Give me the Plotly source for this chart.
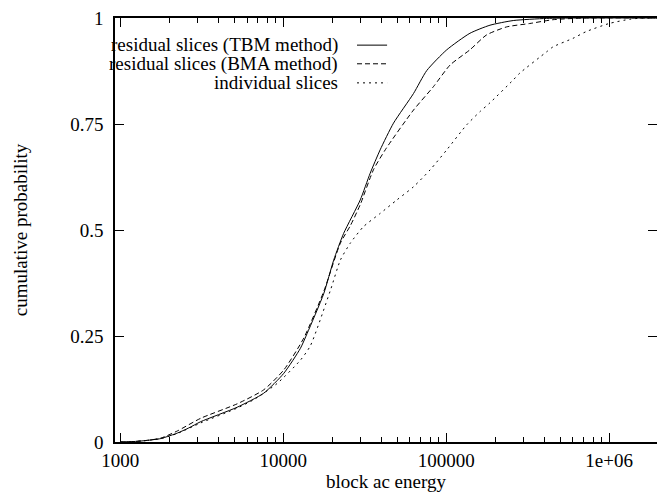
import numpy as np
import plotly.graph_objects as go

# ---- data ----
tbm_energy = [1000, 1200, 1400, 1770, 1950, 2240, 2630, 3120, 5220, 7590, 10090, 12760,
              14030, 17740, 20420, 23500, 29720, 34200, 39360, 47530, 63100, 76030,
              100900, 140000, 185800, 258200, 413000, 631000, 2000000]
tbm_prob = [0.0, 0.001, 0.003, 0.008, 0.013, 0.021, 0.033, 0.048, 0.082, 0.115, 0.162, 0.221,
            0.256, 0.35, 0.429, 0.492, 0.571, 0.634, 0.689, 0.752, 0.822, 0.876,
            0.925, 0.964, 0.983, 0.994, 0.999, 1.0, 1.0]

bma_energy = [1000, 1200, 1400, 1770, 2240, 3120, 5220, 7590, 10090, 13370, 17740, 22440,
              25820, 29720, 35810, 42950, 63100, 83560, 105700, 140000, 177000, 235000,
              326000, 453000, 708000, 2000000]
bma_prob = [0.0, 0.001, 0.003, 0.009, 0.026, 0.056, 0.09, 0.123, 0.17, 0.245, 0.355, 0.469,
            0.51, 0.56, 0.642, 0.693, 0.783, 0.838, 0.889, 0.925, 0.96, 0.979,
            0.987, 0.996, 1.0, 1.0]

ind_energy = [1000, 1200, 1400, 1770, 2240, 3120, 5220, 6610, 9180, 12760, 14690, 19500,
              22440, 25820, 31120, 39360, 49890, 63100, 79800, 100900, 133700, 162200,
              185800, 258200, 283100, 413000, 453000, 600000, 724000, 1000000, 1334000,
              1611000, 2000000]
ind_prob = [0.0, 0.001, 0.003, 0.008, 0.02, 0.045, 0.08, 0.1, 0.138, 0.193, 0.227, 0.358,
            0.429, 0.469, 0.508, 0.539, 0.571, 0.602, 0.642, 0.689, 0.748, 0.78,
            0.80, 0.854, 0.87, 0.92, 0.932, 0.952, 0.968, 0.987, 0.997,
            1.0, 1.0]

series_names = ["residual slices (TBM method)", "residual slices (BMA method)", "individual slices"]
series_dash = ["solid", "5px,3px", "2px,4px"]

x_tickvals = [1000, 10000, 100000, 1000000]
x_ticktext = ["1000", "10000", "100000", "1e+06"]
y_tickvals = [0, 0.25, 0.5, 0.75, 1]
y_ticktext = ["0", "0.25", "0.5", "0.75", "1"]

FONT = "Liberation Serif"
FS = 19

fig = go.Figure()
for xs, ys, name, dash in zip([tbm_energy, bma_energy, ind_energy],
                              [tbm_prob, bma_prob, ind_prob],
                              series_names, series_dash):
    fig.add_trace(go.Scatter(x=xs, y=ys, mode="lines", name=name,
                             line=dict(color="black", width=1, dash=dash, shape="spline", smoothing=0.6),
                             showlegend=False))

# gnuplot-style key: right-aligned text with sample line to the right
key_y = [0.936, 0.892, 0.847]
for name, dash, ky in zip(series_names, series_dash, key_y):
    fig.add_annotation(x=0.415, y=ky, xref="paper", yref="paper", text=name,
                       showarrow=False, xanchor="right", yanchor="middle",
                       font=dict(family=FONT, size=FS, color="black"))
    fig.add_shape(type="line", xref="paper", yref="paper", x0=0.4465, x1=0.502, y0=ky, y1=ky,
                  line=dict(color="black", width=1, dash=dash))

# invisible trace to activate right-side tick axis
fig.add_trace(go.Scatter(x=[1000], y=[0], yaxis="y2", mode="markers",
                         marker=dict(opacity=0), showlegend=False, hoverinfo="skip"))

fig.update_layout(
    width=657, height=492,
    margin=dict(l=115, r=0, t=18, b=50),
    paper_bgcolor="white", plot_bgcolor="white",
    font=dict(family=FONT, size=FS, color="black"),
    xaxis=dict(type="log", range=[np.log10(929), 6.294],
               tickvals=x_tickvals, ticktext=x_ticktext,
               ticks="inside", ticklen=9, tickwidth=1, tickcolor="black",
               minor=dict(ticks="inside", ticklen=5, tickwidth=1, tickcolor="black",
                          dtick="D1", showgrid=False),
               showline=True, linecolor="black", linewidth=1.5, mirror="ticks",
               showgrid=False, zeroline=False,
               title=dict(text="block ac energy", font=dict(family=FONT, size=FS), standoff=0),
               tickfont=dict(family=FONT, size=FS)),
    yaxis=dict(range=[0, 1], tickvals=y_tickvals, ticktext=y_ticktext,
               ticks="inside", ticklen=9, tickwidth=1, tickcolor="black",
               showline=True, linecolor="black", linewidth=1.5, mirror=False,
               showgrid=False, zeroline=False, ticklabelstandoff=6,
               title=dict(text="cumulative probability", font=dict(family=FONT, size=FS), standoff=38),
               tickfont=dict(family=FONT, size=FS)),
    yaxis2=dict(range=[0, 1], overlaying="y", side="right", tickvals=y_tickvals,
                ticks="inside", ticklen=9, tickwidth=1, tickcolor="black",
                showticklabels=False, showline=False, showgrid=False, zeroline=False),
)

fig.write_html("out.html")
